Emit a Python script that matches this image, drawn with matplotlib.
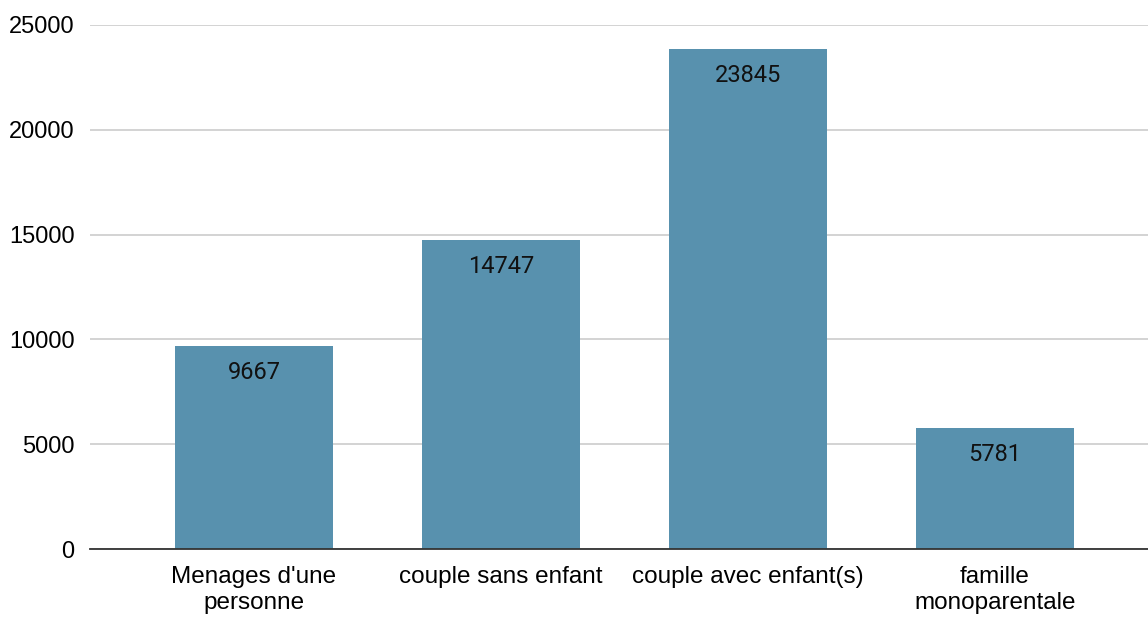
import matplotlib.pyplot as plt

# Données
categories = ["Menages d'une\npersonne", "couple sans enfant", "couple avec enfant(s)", "famille\nmonoparentale"]
valeurs = [9667, 14747, 23845, 5781]
yticks = [0, 5000, 10000, 15000, 20000, 25000]

couleur = '#5891ae'

fig = plt.figure(figsize=(11.48, 6.17), dpi=100)
ax = fig.add_axes([90 / 1148, (617 - 549) / 617, (1148 - 90) / 1148, (549 - 25) / 617])

x = range(len(categories))
bars = ax.bar(x, valeurs, width=0.64, color=couleur, zorder=3)

# Étiquettes des valeurs à l'intérieur des barres
for b, v in zip(bars, valeurs):
    ax.annotate(str(v), (b.get_x() + b.get_width() / 2, v), xytext=(0, -19),
                textcoords='offset points', ha='center', va='center',
                fontsize=17, family='Roboto', color='#111111', zorder=4)

ax.set_xlim(-0.664, 3.62)
ax.set_ylim(0, 25000)
ax.set_yticks(yticks)
ax.set_yticklabels([str(t) for t in yticks], family='Liberation Sans', fontsize=17)
ax.set_xticks(list(x))
ax.set_xticklabels(categories, family='Liberation Sans', fontsize=17.5, linespacing=1.25)
ax.tick_params(axis='both', length=0)
ax.tick_params(axis='y', pad=11)
ax.tick_params(axis='x', pad=12)

ax.grid(axis='y', color='#cccccc', linewidth=1.2, zorder=0)
for s in ['top', 'right', 'left']:
    ax.spines[s].set_visible(False)
ax.spines['bottom'].set_color('#333333')
ax.spines['bottom'].set_linewidth(1.3)
ax.spines['bottom'].set_zorder(5)

fig.savefig('out.png', dpi=100)
